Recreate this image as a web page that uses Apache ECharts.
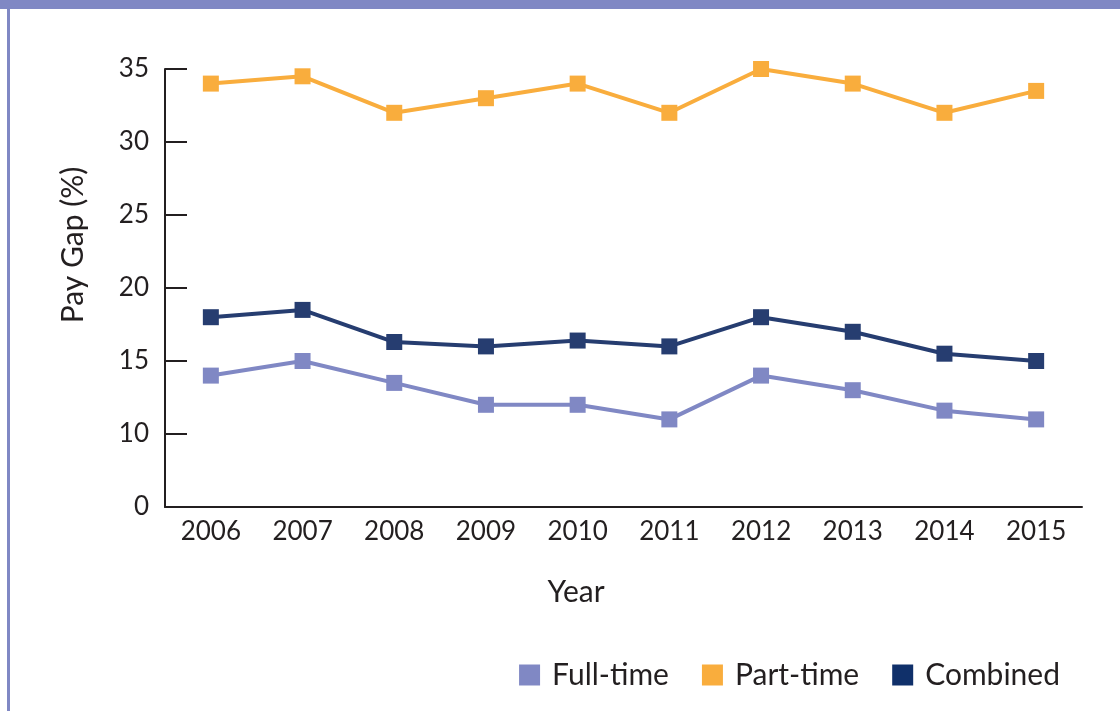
<!DOCTYPE html>
<html>
<head>
<meta charset="utf-8">
<script src="https://cdn.jsdelivr.net/npm/echarts@6/dist/echarts.min.js"></script>
<style>
  html, body { margin: 0; padding: 0; background: #fff; }
  #chart { width: 1120px; height: 711px; }
</style>
</head>
<body>
<div id="chart"></div>
<script>
// data
var years = ['2006', '2007', '2008', '2009', '2010', '2011', '2012', '2013', '2014', '2015'];
var fullTime = [14, 15, 13.5, 12, 12, 11, 14, 13, 11.6, 11];
var partTime = [34, 34.5, 32, 33, 34, 32, 35, 34, 32, 33.5];
var combined = [18, 18.5, 16.3, 16, 16.4, 16, 18, 17, 15.5, 15];
// y axis is broken: the bottom tick (value 5) is shown as 0
var yTickLabels = { 5: '0', 10: '10', 15: '15', 20: '20', 25: '25', 30: '30', 35: '35' };

var FONT = 'Lato';
var AXIS = '#231f20';
var colors = { full: '#8088c4', part: '#f9ad3d', comb: '#263d70' };

var chart = echarts.init(document.getElementById('chart'));

function lineSeries(name, data, color) {
  return {
    name: name,
    type: 'line',
    data: data,
    symbol: 'rect',
    symbolSize: 16,
    lineStyle: { width: 4, color: color },
    itemStyle: { color: color },
    emphasis: { disabled: true },
    animation: false
  };
}

chart.setOption({
  backgroundColor: '#fff',
  animation: false,
  grid: { left: 165, right: 38, top: 69, bottom: 204 },
  legend: {
    right: 55,
    top: 655,
    icon: 'rect',
    itemWidth: 21,
    itemHeight: 21,
    itemGap: 33,
    textStyle: { fontFamily: FONT, fontSize: 30, color: '#231f20', padding: [0, 0, 0, 7] },
    data: [
      { name: 'Full-time', itemStyle: { color: colors.full } },
      { name: 'Part-time', itemStyle: { color: colors.part } },
      { name: 'Combined', itemStyle: { color: '#10306a' } }
    ]
  },
  xAxis: {
    type: 'category',
    data: years,
    boundaryGap: true,
    axisLine: { lineStyle: { color: AXIS, width: 2 } },
    axisTick: { inside: true, length: 9, lineStyle: { color: AXIS, width: 2 } },
    axisLabel: { fontFamily: FONT, fontSize: 26, color: '#231f20', margin: 12 },
    splitLine: { show: false }
  },
  yAxis: {
    type: 'value',
    min: 5,
    max: 35,
    interval: 5,
    axisLine: { show: true, lineStyle: { color: AXIS, width: 2 } },
    axisTick: { show: true, inside: true, length: 22, lineStyle: { color: AXIS, width: 2 } },
    axisLabel: {
      fontFamily: FONT, fontSize: 26, color: '#231f20', margin: 16,
      formatter: function (v) { return yTickLabels[v] || ''; }
    },
    splitLine: { show: false }
  },
  graphic: [
    // frame: top band and left border
    { type: 'rect', left: 0, top: 0, shape: { width: 1120, height: 9 }, style: { fill: '#8088c4' } },
    { type: 'rect', left: 7, top: 0, shape: { width: 3, height: 711 }, style: { fill: '#8088c4' } },
    {
      type: 'text', x: 73, y: 245, rotation: Math.PI / 2,
      style: { text: 'Pay Gap (%)', fontFamily: FONT, fontSize: 30, fill: '#231f20', align: 'center', verticalAlign: 'middle' }
    },
    {
      type: 'text', x: 576, y: 592,
      style: { text: 'Year', fontFamily: FONT, fontSize: 30, fill: '#231f20', align: 'center', verticalAlign: 'middle' }
    }
  ],
  series: [
    lineSeries('Full-time', fullTime, colors.full),
    lineSeries('Part-time', partTime, colors.part),
    lineSeries('Combined', combined, colors.comb)
  ]
});
</script>
</body>
</html>
